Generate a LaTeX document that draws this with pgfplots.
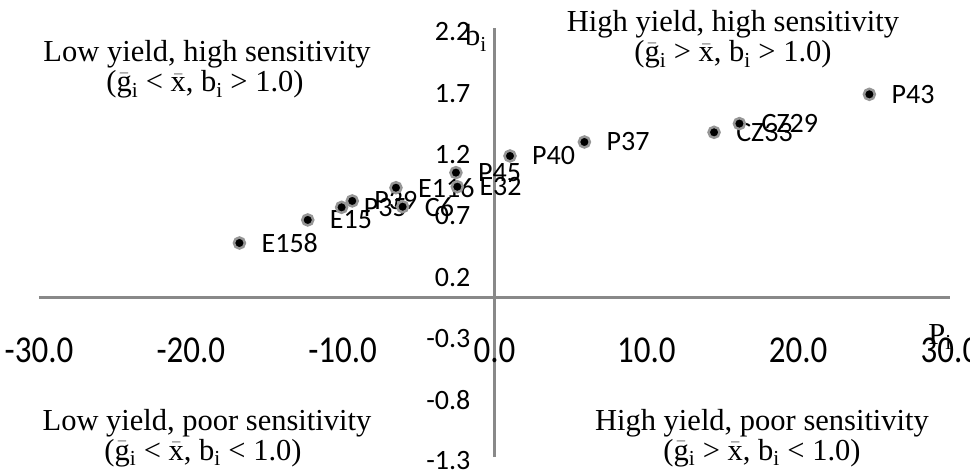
\documentclass[border=0pt]{standalone}
\usepackage{pgfplots}
\pgfplotsset{compat=1.18}
\usepackage{pgfplotstable}
\usepackage{fontspec}
\setmainfont{Carlito}
\newfontfamily\tnr{Liberation Serif}
\definecolor{axgray}{RGB}{137,137,137}
\definecolor{ringgray}{RGB}{150,150,150}
\pgfplotstableread{
x y label
-16.8 0.446 E158
-12.3 0.634 E15
-10.07 0.737 P35
-9.37 0.789 P39
-6.49 0.897 E116
-6.05 0.742 C6
-2.54 1.02 P45
-2.45 0.905 E32
1.02 1.156 P40
5.92 1.27 P37
14.46 1.349 CZ33
16.13 1.42 CZ29
24.69 1.659 P43
}\datatable
\newcommand{\qfont}{\tnr\fontsize{30.5}{33}\selectfont}
\begin{document}
\begin{tikzpicture}
\begin{axis}[name=ax, scale only axis, width=911pt, height=429pt,
  xmin=-30, xmax=30, ymin=-1.3, ymax=2.2,
  axis lines=middle, axis line style={-, draw=axgray, line width=2.5pt},
  xtick={-30,-20,-10,0,10,20,30},
  ytick={-1.3,-0.8,-0.3,0.2,0.7,1.2,1.7,2.2},
  major tick length=0pt,
  hide obscured x ticks=false, hide obscured y ticks=false,
  scaled ticks=false,
  tick label style={text=black,
    /pgf/number format/.cd, fixed, fixed zerofill, precision=1, assume math mode=true, /tikz/.cd},
  x tick label style={font=\fontsize{33}{35}\selectfont, anchor=center, inner sep=0pt, yshift=-53pt, yscale=1.15},
  y tick label style={font=\fontsize{28}{30}\selectfont, anchor=east, inner sep=0pt, xshift=-24pt, yshift=-4pt},
  clip=false]
\addplot[only marks, mark=*, mark size=5.5pt,
  mark options={fill=black, draw=ringgray, line width=2.5pt},
  nodes near coords, point meta=explicit symbolic,
  every node near coord/.style={anchor=west, inner sep=0pt, xshift=21pt, text=black,
    font=\fontsize{28}{30}\selectfont}]
  table[x=x, y=y, meta=label] {\datatable};
\end{axis}
\begin{scope}[shift={([xshift=-39pt,yshift=457pt]ax.south west)}, x=1pt, y=-1pt]
  \node[anchor=base, inner sep=0pt, font=\qfont] at (207,62) {Low yield, high sensitivity};
  \node[anchor=base, inner sep=0pt, font=\qfont] at (205,92) {($\bar{\mbox{g}}$\textsubscript{i} < $\bar{\mbox{x}}$, b\textsubscript{i} > 1.0)};
  \node[anchor=base, inner sep=0pt, font=\qfont] at (733,32) {High yield, high sensitivity};
  \node[anchor=base, inner sep=0pt, font=\qfont] at (733,62) {($\bar{\mbox{g}}$\textsubscript{i} > $\bar{\mbox{x}}$, b\textsubscript{i} > 1.0)};
  \node[anchor=base, inner sep=0pt, font=\qfont] at (207,430) {Low yield, poor sensitivity};
  \node[anchor=base, inner sep=0pt, font=\qfont] at (203,460) {($\bar{\mbox{g}}$\textsubscript{i} < $\bar{\mbox{x}}$, b\textsubscript{i} < 1.0)};
  \node[anchor=base, inner sep=0pt, font=\qfont] at (762,430) {High yield, poor sensitivity};
  \node[anchor=base, inner sep=0pt, font=\qfont] at (762,460) {($\bar{\mbox{g}}$\textsubscript{i} > $\bar{\mbox{x}}$, b\textsubscript{i} < 1.0)};
  \node[anchor=base west, inner sep=0pt, font=\qfont] at (465,46) {b\textsubscript{i}};
  \node[anchor=base, inner sep=0pt, font=\qfont] at (940,344) {P\textsubscript{i}};
  \pgfresetboundingbox
  \path[use as bounding box] (0,0) rectangle (970,472);
\end{scope}
\end{tikzpicture}
\end{document}
